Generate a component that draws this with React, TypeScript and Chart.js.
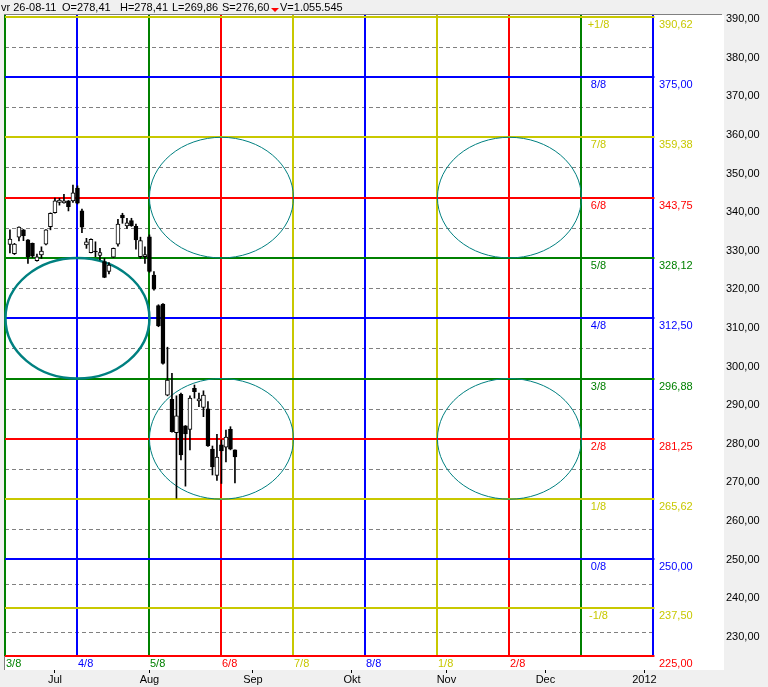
import React, { useEffect, useRef } from 'react';
import { Chart, registerables } from 'chart.js';
Chart.register(...registerables);

// ---------- DATA ----------
const barIndex = [1,2,3,4,5,6,7,8,9,10,11,12,13,14,15,16,17,18,19,20,21,22,23,24,25,26,27,28,29,30,31,32,33,34,35,36,37,38,39,40,41,42,43,44,45,46,47,48,49,50,51];
const openV = [331.6,329.2,333.5,335.4,332.8,331.9,327.4,328.9,331.7,336.2,339.85,342.5,342.4,342.9,342.9,346.2,340.3,331.5,329.5,329.9,328.8,327.15,324.6,328.3,331.7,339.2,336.4,337.8,336.3,328.45,328.45,333.6,323.7,315.75,316.2,292.6,291.5,282.85,292.8,284.6,283.7,294.35,291.1,289.4,289.0,278.6,271.8,279.7,279.1,283.7,278.41];
const highV = [335.4,331.9,336.2,335.5,332.9,332.0,329.1,331.0,335.5,339.8,343.6,343.6,344.6,343.0,347.0,346.8,340.8,333.2,333.1,332.3,330.6,328.0,326.9,330.7,338.1,339.7,338.4,338.4,336.9,333.5,331.0,334.1,324.6,316.0,316.3,305.0,298.2,292.4,293.1,284.7,292.4,295.2,293.1,293.7,290.9,279.4,282.4,281.0,283.5,284.4,278.41];
const lowV = [329.4,329.0,332.5,332.6,326.7,328.2,327.3,328.0,331.5,335.4,339.7,341.8,342.3,340.3,342.5,342.1,334.7,330.6,329.4,328.45,327.6,323.0,324.0,328.2,331.2,337.1,335.8,336.3,330.4,328.0,326.7,324.4,319.8,310.3,300.6,292.4,283.0,265.9,275.8,269.0,278.4,291.8,289.6,287.0,279.3,271.9,270.5,269.7,275.3,278.4,269.86];
const closeV = [333.0,331.7,336.1,333.9,328.4,328.6,328.4,329.9,335.4,339.7,342.9,343.1,342.9,341.4,345.0,342.3,336.1,332.3,332.95,329.7,329.5,323.1,326.3,330.6,336.9,338.5,337.25,336.5,332.8,332.6,329.0,324.6,320.0,310.5,300.8,296.5,283.1,287.2,277.1,282.5,291.8,293.5,291.6,292.6,279.4,274.0,276.5,278.1,281.7,278.55,276.6];

const monthTickBars = [11, 32, 55, 77, 98, 120, 142];
const monthLabels = ['Jul', 'Aug', 'Sep', 'Okt', 'Nov', 'Dec', '2012'];
const priceTicks = [230, 240, 250, 260, 270, 280, 290, 300, 310, 320, 330, 340, 350, 360, 370, 380, 390];

const levelValues = [390.62, 375, 359.38, 343.75, 328.12, 312.5, 296.88, 281.25, 265.62, 250, 237.5, 225];
const levelLabels = ['+1/8', '8/8', '7/8', '6/8', '5/8', '4/8', '3/8', '2/8', '1/8', '0/8', '-1/8', ''];
const levelColors = ['Y', 'B', 'Y', 'R', 'G', 'B', 'G', 'R', 'Y', 'B', 'Y', 'R'];
const dashedValues = [382.81, 367.19, 351.56, 335.94, 320.31, 304.69, 289.06, 273.44, 257.81, 243.75, 231.25];

const timeBars = [0, 16, 32, 48, 64, 80, 96, 112, 128, 144];
const timeLabels = ['3/8', '4/8', '5/8', '6/8', '7/8', '8/8', '1/8', '2/8', '', ''];
const timeColors = ['G', 'B', 'G', 'R', 'Y', 'B', 'Y', 'R', 'G', 'B'];

const ellipseBarFrom = [0, 32, 96, 32, 96];
const ellipseBarTo = [32, 64, 128, 64, 128];
const ellipseLow = [296.88, 328.12, 328.12, 265.62, 265.62];
const ellipseHigh = [328.12, 359.38, 359.38, 296.88, 296.88];
const ellipseWidth = [2.5, 1, 1, 1, 1];

const headerTexts = ['vr 26-08-11', 'O=278,41', 'H=278,41', 'L=269,86', 'S=276,60', 'V=1.055.545'];

// ---------- STYLE ----------
const COLORS: Record<string, string> = { Y: '#c8c800', B: '#0000ff', R: '#ff0000', G: '#008000' };
const TEAL = '#008080';
const FONT = '11px "Liberation Sans", Arial, sans-serif';
const PX_PER_BAR = 4.5;
const X_MIN = -0.1;

const fmt = (v: number) => v.toFixed(2).replace('.', ',');

const mmPlugin = {
  id: 'mm',
  beforeDraw(chart: any) {
    const { ctx, chartArea: a, width, height } = chart;
    ctx.save();
    ctx.fillStyle = '#f0f0f0';
    ctx.fillRect(0, 0, width, height);
    ctx.fillStyle = '#ffffff';
    ctx.fillRect(a.left, a.top, a.right - a.left, a.bottom - a.top);
    ctx.strokeStyle = '#808080';
    ctx.lineWidth = 1;
    ctx.beginPath();
    ctx.moveTo(a.left - 1, a.top - 0.5);
    ctx.lineTo(a.right - 2, a.top - 0.5);
    ctx.moveTo(a.left - 0.5, a.top - 1);
    ctx.lineTo(a.left - 0.5, a.bottom);
    ctx.stroke();
    ctx.restore();
  },
  beforeDatasetsDraw(chart: any) {
    const { ctx, chartArea: a } = chart;
    const xs = chart.scales.x, ys = chart.scales.y;
    const xR = xs.getPixelForValue(timeBars[timeBars.length - 1]);
    const yBottom = ys.getPixelForValue(levelValues[levelValues.length - 1]);
    ctx.save();
    // dashed lines
    ctx.strokeStyle = '#808080';
    ctx.lineWidth = 1;
    ctx.setLineDash([4, 3]);
    dashedValues.forEach((v) => {
      const y = Math.round(ys.getPixelForValue(v)) + 0.5;
      ctx.beginPath();
      ctx.moveTo(a.left, y);
      ctx.lineTo(xR, y);
      ctx.stroke();
    });
    ctx.setLineDash([]);
    // vertical lines
    ctx.lineWidth = 2;
    timeBars.forEach((b, i) => {
      const x = Math.round(xs.getPixelForValue(b));
      ctx.strokeStyle = COLORS[timeColors[i]];
      ctx.beginPath();
      ctx.moveTo(x, a.top);
      ctx.lineTo(x, yBottom);
      ctx.stroke();
    });
    // horizontal lines
    levelValues.forEach((v, i) => {
      const y = Math.round(ys.getPixelForValue(v));
      ctx.strokeStyle = COLORS[levelColors[i]];
      ctx.beginPath();
      ctx.moveTo(a.left, y);
      ctx.lineTo(xR + 1, y);
      ctx.stroke();
    });
    // ellipses
    ctx.strokeStyle = TEAL;
    ellipseBarFrom.forEach((b0, i) => {
      const x0 = xs.getPixelForValue(b0), x1 = xs.getPixelForValue(ellipseBarTo[i]);
      const y0 = ys.getPixelForValue(ellipseHigh[i]), y1 = ys.getPixelForValue(ellipseLow[i]);
      ctx.lineWidth = ellipseWidth[i];
      ctx.beginPath();
      ctx.ellipse((x0 + x1) / 2, (y0 + y1) / 2, (x1 - x0) / 2, (y1 - y0) / 2, 0, 0, Math.PI * 2);
      ctx.stroke();
    });
    ctx.restore();
  },
  afterDraw(chart: any) {
    const { ctx } = chart;
    const xs = chart.scales.x, ys = chart.scales.y;
    const xR = Math.round(xs.getPixelForValue(timeBars[timeBars.length - 1]));
    const xG = Math.round(xs.getPixelForValue(timeBars[timeBars.length - 2]));
    const yBottom = Math.round(ys.getPixelForValue(levelValues[levelValues.length - 1]));
    ctx.save();
    ctx.font = FONT;
    ctx.textBaseline = 'top';
    levelValues.forEach((v, i) => {
      const y = Math.round(ys.getPixelForValue(v));
      ctx.fillStyle = COLORS[levelColors[i]];
      if (levelLabels[i]) {
        ctx.textAlign = 'center';
        ctx.fillText(levelLabels[i], xG + 17.5, y + 2);
      }
      ctx.textAlign = 'left';
      ctx.fillText(fmt(v), xR + 6, y + 2);
    });
    timeBars.forEach((b, i) => {
      if (!timeLabels[i]) return;
      const x = Math.round(xs.getPixelForValue(b));
      ctx.fillStyle = COLORS[timeColors[i]];
      ctx.textAlign = 'left';
      ctx.fillText(timeLabels[i], x + 1, yBottom + 2);
    });
    // header
    ctx.textBaseline = 'alphabetic';
    ctx.fillStyle = '#000';
    const hx = [1, 62, 120, 172, 222, 280];
    headerTexts.forEach((t, i) => ctx.fillText(t, hx[i], 11));
    ctx.fillStyle = '#ff0000';
    ctx.beginPath();
    ctx.moveTo(271, 8);
    ctx.lineTo(279, 8);
    ctx.lineTo(275, 12);
    ctx.closePath();
    ctx.fill();
    ctx.restore();
  },
};

export default function App() {
  const ref = useRef<HTMLCanvasElement | null>(null);
  useEffect(() => {
    if (!ref.current) return;
    const chart = new Chart(ref.current, {
      type: 'bar',
      data: {
        datasets: [
          {
            label: 'wick',
            data: barIndex.map((b, i) => ({ x: b, y: [lowV[i], highV[i]] })) as any,
            backgroundColor: '#000000',
            borderWidth: 0,
            barThickness: 1,
            grouped: false,
            order: 2,
          } as any,
          {
            label: 'body',
            data: barIndex.map((b, i) => ({ x: b, y: [openV[i], closeV[i]] })) as any,
            backgroundColor: barIndex.map((_, i) => (closeV[i] >= openV[i] ? '#ffffff' : '#000000')),
            borderColor: '#000000',
            borderWidth: 1,
            borderSkipped: false,
            barThickness: 4,
            grouped: false,
            order: 1,
          } as any,
        ],
      },
      options: {
        responsive: false,
        animation: false,
        devicePixelRatio: 1,
        layout: { padding: { left: 5, top: 15, right: 0, bottom: 0 } },
        plugins: { legend: { display: false }, tooltip: { enabled: false } },
        scales: {
          x: {
            type: 'linear',
            min: X_MIN,
            max: X_MIN + 719 / PX_PER_BAR,
            offset: false,
            afterBuildTicks: (s: any) => { s.ticks = monthTickBars.map((v) => ({ value: v })); },
            afterFit: (s: any) => { s.height = 17; },
            grid: { offset: false, drawOnChartArea: false, drawTicks: true, tickLength: 3, color: '#000000' },
            border: { display: false },
            ticks: {
              autoSkip: false, maxRotation: 0, padding: 0, color: '#000000',
              font: { family: '"Liberation Sans", Arial, sans-serif', size: 11 },
              callback: (_v: any, i: number) => monthLabels[i],
            },
          },
          y: {
            type: 'linear',
            position: 'right',
            min: 221.37,
            max: 391.06,
            afterBuildTicks: (s: any) => { s.ticks = priceTicks.map((v) => ({ value: v })); },
            afterFit: (s: any) => { s.width = 44; },
            grid: { display: false, drawTicks: false },
            border: { display: false },
            ticks: {
              padding: 2, color: '#000000',
              font: { family: '"Liberation Sans", Arial, sans-serif', size: 11 },
              callback: (v: any) => fmt(Number(v)),
            },
          },
        },
      } as any,
      plugins: [mmPlugin],
    });
    return () => chart.destroy();
  }, []);
  return (
    <div style={{ position: 'fixed', left: 0, top: 0, width: 768, height: 687, background: '#f0f0f0' }}>
      <canvas ref={ref} width={768} height={687} style={{ display: 'block', width: 768, height: 687 }} />
    </div>
  );
}
